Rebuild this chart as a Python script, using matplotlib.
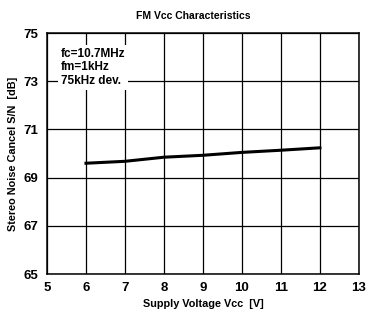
import matplotlib
matplotlib.use("Agg")
import matplotlib.pyplot as plt

plt.rcParams['font.family'] = ['Liberation Sans Narrow', 'Liberation Sans', 'DejaVu Sans']

vcc = [6, 7, 8, 9, 10, 11, 12]
sn_db = [69.6, 69.68, 69.85, 69.93, 70.05, 70.14, 70.24]
x_ticks = [5, 6, 7, 8, 9, 10, 11, 12, 13]
y_ticks = [65, 67, 69, 71, 73, 75]

fig = plt.figure(figsize=(3.67, 3.18), dpi=100)
ax = fig.add_axes([0.128, 0.138, 0.85, 0.758])

ax.plot(vcc, sn_db, color='black', linewidth=2.2, zorder=3)

ax.set_xlim(5, 13)
ax.set_ylim(65, 75)
ax.set_xticks(x_ticks)
ax.set_yticks(y_ticks)
ax.grid(True, color='black', linewidth=0.9)
ax.tick_params(length=0, labelsize=9.5, pad=6)
for lbl in ax.get_xticklabels() + ax.get_yticklabels():
    lbl.set_fontweight('bold')
for s in ax.spines.values():
    s.set_linewidth(1.1)

ax.text(8.74, 75.7, "FM Vcc Characteristics", fontsize=7.5, fontweight='bold',
        ha='center', va='center')
ax.set_xlabel("Supply Voltage Vcc  [V]", fontsize=7.8, fontweight='bold', labelpad=3)
ax.set_ylabel("Stereo Noise Cancel S/N  [dB]", fontsize=7.8, fontweight='bold', labelpad=4)

ax.text(5.35, 74.4, "fc=10.7MHz\nfm=1kHz\n75kHz dev.", fontsize=8.5, fontweight='bold',
        va='top', ha='left', linespacing=1.2,
        bbox=dict(facecolor='white', edgecolor='none', pad=2), zorder=4)

fig.savefig("out.png", dpi=100)
